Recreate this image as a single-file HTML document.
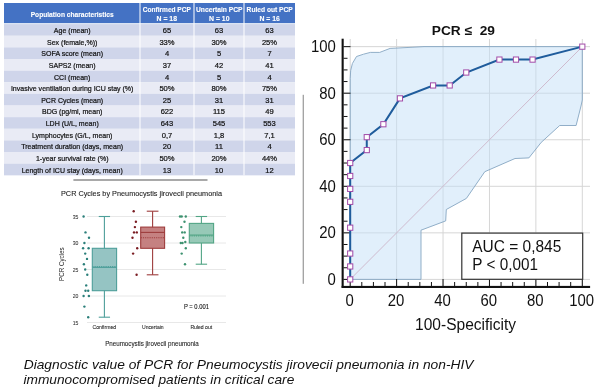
<!DOCTYPE html>
<html><head><meta charset="utf-8"><style>
html,body{margin:0;padding:0;background:#fff;width:598px;height:389px;overflow:hidden}
svg{position:absolute;left:0;top:0;display:block;filter:blur(0.3px)}
text{font-family:"Liberation Sans",sans-serif}
</style></head><body>
<svg width="598" height="389" viewBox="0 0 598 389">

<rect x="4" y="3" width="291" height="20.2" fill="#4472C4"/>
<rect x="4" y="24.10" width="291" height="11.68" fill="#CFD5EA"/>
<rect x="4" y="35.73" width="291" height="11.68" fill="#E9EBF5"/>
<rect x="4" y="47.36" width="291" height="11.68" fill="#CFD5EA"/>
<rect x="4" y="58.99" width="291" height="11.68" fill="#E9EBF5"/>
<rect x="4" y="70.62" width="291" height="11.68" fill="#CFD5EA"/>
<rect x="4" y="82.25" width="291" height="11.68" fill="#E9EBF5"/>
<rect x="4" y="93.88" width="291" height="11.68" fill="#CFD5EA"/>
<rect x="4" y="105.52" width="291" height="11.68" fill="#E9EBF5"/>
<rect x="4" y="117.15" width="291" height="11.68" fill="#CFD5EA"/>
<rect x="4" y="128.78" width="291" height="11.68" fill="#E9EBF5"/>
<rect x="4" y="140.41" width="291" height="11.68" fill="#CFD5EA"/>
<rect x="4" y="152.04" width="291" height="11.68" fill="#E9EBF5"/>
<rect x="4" y="163.67" width="291" height="11.68" fill="#CFD5EA"/>
<rect x="139.5" y="3" width="1" height="172.3" fill="#fff"/>
<rect x="193.5" y="3" width="1" height="172.3" fill="#fff"/>
<rect x="243.5" y="3" width="1" height="172.3" fill="#fff"/>
<text x="72.2" y="16.5" font-size="7.8" font-weight="bold" fill="#fff" text-anchor="middle" textLength="83" lengthAdjust="spacingAndGlyphs" stroke="#fff" stroke-width="0.12" >Population characteristics</text>
<text x="166.8" y="11.9" font-size="7.7" font-weight="bold" fill="#fff" text-anchor="middle" textLength="48.2" lengthAdjust="spacingAndGlyphs" stroke="#fff" stroke-width="0.12" >Confirmed PCP</text>
<text x="166.8" y="21.1" font-size="7.7" font-weight="bold" fill="#fff" text-anchor="middle" textLength="20.5" lengthAdjust="spacingAndGlyphs" stroke="#fff" stroke-width="0.12" >N = 18</text>
<text x="219.3" y="11.9" font-size="7.7" font-weight="bold" fill="#fff" text-anchor="middle" textLength="46.6" lengthAdjust="spacingAndGlyphs" stroke="#fff" stroke-width="0.12" >Uncertain PCP</text>
<text x="219.3" y="21.1" font-size="7.7" font-weight="bold" fill="#fff" text-anchor="middle" textLength="20.5" lengthAdjust="spacingAndGlyphs" stroke="#fff" stroke-width="0.12" >N = 10</text>
<text x="269.7" y="11.9" font-size="7.7" font-weight="bold" fill="#fff" text-anchor="middle" textLength="46.2" lengthAdjust="spacingAndGlyphs" stroke="#fff" stroke-width="0.12" >Ruled out PCP</text>
<text x="269.7" y="21.1" font-size="7.7" font-weight="bold" fill="#fff" text-anchor="middle" textLength="20.5" lengthAdjust="spacingAndGlyphs" stroke="#fff" stroke-width="0.12" >N = 16</text>
<text x="72.2" y="33.02" font-size="8" font-weight="normal" fill="#111" text-anchor="middle" stroke="#111" stroke-width="0.22" transform="translate(72.2 0) scale(0.88 1) translate(-72.2 0)">Age (mean)</text>
<text x="167.0" y="33.02" font-size="8" font-weight="normal" fill="#111" text-anchor="middle" stroke="#111" stroke-width="0.22" transform="translate(167.0 0) scale(0.95 1) translate(-167.0 0)">65</text>
<text x="219.0" y="33.02" font-size="8" font-weight="normal" fill="#111" text-anchor="middle" stroke="#111" stroke-width="0.22" transform="translate(219.0 0) scale(0.95 1) translate(-219.0 0)">63</text>
<text x="269.5" y="33.02" font-size="8" font-weight="normal" fill="#111" text-anchor="middle" stroke="#111" stroke-width="0.22" transform="translate(269.5 0) scale(0.95 1) translate(-269.5 0)">63</text>
<text x="72.2" y="44.65" font-size="8" font-weight="normal" fill="#111" text-anchor="middle" stroke="#111" stroke-width="0.22" transform="translate(72.2 0) scale(0.88 1) translate(-72.2 0)">Sex (female,%))</text>
<text x="167.0" y="44.65" font-size="8" font-weight="normal" fill="#111" text-anchor="middle" stroke="#111" stroke-width="0.22" transform="translate(167.0 0) scale(0.95 1) translate(-167.0 0)">33%</text>
<text x="219.0" y="44.65" font-size="8" font-weight="normal" fill="#111" text-anchor="middle" stroke="#111" stroke-width="0.22" transform="translate(219.0 0) scale(0.95 1) translate(-219.0 0)">30%</text>
<text x="269.5" y="44.65" font-size="8" font-weight="normal" fill="#111" text-anchor="middle" stroke="#111" stroke-width="0.22" transform="translate(269.5 0) scale(0.95 1) translate(-269.5 0)">25%</text>
<text x="72.2" y="56.28" font-size="8" font-weight="normal" fill="#111" text-anchor="middle" stroke="#111" stroke-width="0.22" transform="translate(72.2 0) scale(0.88 1) translate(-72.2 0)">SOFA score (mean)</text>
<text x="167.0" y="56.28" font-size="8" font-weight="normal" fill="#111" text-anchor="middle" stroke="#111" stroke-width="0.22" transform="translate(167.0 0) scale(0.95 1) translate(-167.0 0)">4</text>
<text x="219.0" y="56.28" font-size="8" font-weight="normal" fill="#111" text-anchor="middle" stroke="#111" stroke-width="0.22" transform="translate(219.0 0) scale(0.95 1) translate(-219.0 0)">5</text>
<text x="269.5" y="56.28" font-size="8" font-weight="normal" fill="#111" text-anchor="middle" stroke="#111" stroke-width="0.22" transform="translate(269.5 0) scale(0.95 1) translate(-269.5 0)">7</text>
<text x="72.2" y="67.91" font-size="8" font-weight="normal" fill="#111" text-anchor="middle" stroke="#111" stroke-width="0.22" transform="translate(72.2 0) scale(0.88 1) translate(-72.2 0)">SAPS2 (mean)</text>
<text x="167.0" y="67.91" font-size="8" font-weight="normal" fill="#111" text-anchor="middle" stroke="#111" stroke-width="0.22" transform="translate(167.0 0) scale(0.95 1) translate(-167.0 0)">37</text>
<text x="219.0" y="67.91" font-size="8" font-weight="normal" fill="#111" text-anchor="middle" stroke="#111" stroke-width="0.22" transform="translate(219.0 0) scale(0.95 1) translate(-219.0 0)">42</text>
<text x="269.5" y="67.91" font-size="8" font-weight="normal" fill="#111" text-anchor="middle" stroke="#111" stroke-width="0.22" transform="translate(269.5 0) scale(0.95 1) translate(-269.5 0)">41</text>
<text x="72.2" y="79.54" font-size="8" font-weight="normal" fill="#111" text-anchor="middle" stroke="#111" stroke-width="0.22" transform="translate(72.2 0) scale(0.88 1) translate(-72.2 0)">CCI (mean)</text>
<text x="167.0" y="79.54" font-size="8" font-weight="normal" fill="#111" text-anchor="middle" stroke="#111" stroke-width="0.22" transform="translate(167.0 0) scale(0.95 1) translate(-167.0 0)">4</text>
<text x="219.0" y="79.54" font-size="8" font-weight="normal" fill="#111" text-anchor="middle" stroke="#111" stroke-width="0.22" transform="translate(219.0 0) scale(0.95 1) translate(-219.0 0)">5</text>
<text x="269.5" y="79.54" font-size="8" font-weight="normal" fill="#111" text-anchor="middle" stroke="#111" stroke-width="0.22" transform="translate(269.5 0) scale(0.95 1) translate(-269.5 0)">4</text>
<text x="72.2" y="91.17" font-size="8" font-weight="normal" fill="#111" text-anchor="middle" stroke="#111" stroke-width="0.22" transform="translate(72.2 0) scale(0.88 1) translate(-72.2 0)">Invasive ventilation during ICU stay (%)</text>
<text x="167.0" y="91.17" font-size="8" font-weight="normal" fill="#111" text-anchor="middle" stroke="#111" stroke-width="0.22" transform="translate(167.0 0) scale(0.95 1) translate(-167.0 0)">50%</text>
<text x="219.0" y="91.17" font-size="8" font-weight="normal" fill="#111" text-anchor="middle" stroke="#111" stroke-width="0.22" transform="translate(219.0 0) scale(0.95 1) translate(-219.0 0)">80%</text>
<text x="269.5" y="91.17" font-size="8" font-weight="normal" fill="#111" text-anchor="middle" stroke="#111" stroke-width="0.22" transform="translate(269.5 0) scale(0.95 1) translate(-269.5 0)">75%</text>
<text x="72.2" y="102.80" font-size="8" font-weight="normal" fill="#111" text-anchor="middle" stroke="#111" stroke-width="0.22" transform="translate(72.2 0) scale(0.88 1) translate(-72.2 0)">PCR Cycles (mean)</text>
<text x="167.0" y="102.80" font-size="8" font-weight="normal" fill="#111" text-anchor="middle" stroke="#111" stroke-width="0.22" transform="translate(167.0 0) scale(0.95 1) translate(-167.0 0)">25</text>
<text x="219.0" y="102.80" font-size="8" font-weight="normal" fill="#111" text-anchor="middle" stroke="#111" stroke-width="0.22" transform="translate(219.0 0) scale(0.95 1) translate(-219.0 0)">31</text>
<text x="269.5" y="102.80" font-size="8" font-weight="normal" fill="#111" text-anchor="middle" stroke="#111" stroke-width="0.22" transform="translate(269.5 0) scale(0.95 1) translate(-269.5 0)">31</text>
<text x="72.2" y="114.43" font-size="8" font-weight="normal" fill="#111" text-anchor="middle" stroke="#111" stroke-width="0.22" transform="translate(72.2 0) scale(0.88 1) translate(-72.2 0)">BDG (pg/ml, mean)</text>
<text x="167.0" y="114.43" font-size="8" font-weight="normal" fill="#111" text-anchor="middle" stroke="#111" stroke-width="0.22" transform="translate(167.0 0) scale(0.95 1) translate(-167.0 0)">622</text>
<text x="219.0" y="114.43" font-size="8" font-weight="normal" fill="#111" text-anchor="middle" stroke="#111" stroke-width="0.22" transform="translate(219.0 0) scale(0.95 1) translate(-219.0 0)">115</text>
<text x="269.5" y="114.43" font-size="8" font-weight="normal" fill="#111" text-anchor="middle" stroke="#111" stroke-width="0.22" transform="translate(269.5 0) scale(0.95 1) translate(-269.5 0)">49</text>
<text x="72.2" y="126.06" font-size="8" font-weight="normal" fill="#111" text-anchor="middle" stroke="#111" stroke-width="0.22" transform="translate(72.2 0) scale(0.88 1) translate(-72.2 0)">LDH (U/L, mean)</text>
<text x="167.0" y="126.06" font-size="8" font-weight="normal" fill="#111" text-anchor="middle" stroke="#111" stroke-width="0.22" transform="translate(167.0 0) scale(0.95 1) translate(-167.0 0)">643</text>
<text x="219.0" y="126.06" font-size="8" font-weight="normal" fill="#111" text-anchor="middle" stroke="#111" stroke-width="0.22" transform="translate(219.0 0) scale(0.95 1) translate(-219.0 0)">545</text>
<text x="269.5" y="126.06" font-size="8" font-weight="normal" fill="#111" text-anchor="middle" stroke="#111" stroke-width="0.22" transform="translate(269.5 0) scale(0.95 1) translate(-269.5 0)">553</text>
<text x="72.2" y="137.69" font-size="8" font-weight="normal" fill="#111" text-anchor="middle" stroke="#111" stroke-width="0.22" transform="translate(72.2 0) scale(0.88 1) translate(-72.2 0)">Lymphocytes (G/L, mean)</text>
<text x="167.0" y="137.69" font-size="8" font-weight="normal" fill="#111" text-anchor="middle" stroke="#111" stroke-width="0.22" transform="translate(167.0 0) scale(0.95 1) translate(-167.0 0)">0,7</text>
<text x="219.0" y="137.69" font-size="8" font-weight="normal" fill="#111" text-anchor="middle" stroke="#111" stroke-width="0.22" transform="translate(219.0 0) scale(0.95 1) translate(-219.0 0)">1,8</text>
<text x="269.5" y="137.69" font-size="8" font-weight="normal" fill="#111" text-anchor="middle" stroke="#111" stroke-width="0.22" transform="translate(269.5 0) scale(0.95 1) translate(-269.5 0)">7,1</text>
<text x="72.2" y="149.32" font-size="8" font-weight="normal" fill="#111" text-anchor="middle" stroke="#111" stroke-width="0.22" transform="translate(72.2 0) scale(0.88 1) translate(-72.2 0)">Treatment duration (days, mean)</text>
<text x="167.0" y="149.32" font-size="8" font-weight="normal" fill="#111" text-anchor="middle" stroke="#111" stroke-width="0.22" transform="translate(167.0 0) scale(0.95 1) translate(-167.0 0)">20</text>
<text x="219.0" y="149.32" font-size="8" font-weight="normal" fill="#111" text-anchor="middle" stroke="#111" stroke-width="0.22" transform="translate(219.0 0) scale(0.95 1) translate(-219.0 0)">11</text>
<text x="269.5" y="149.32" font-size="8" font-weight="normal" fill="#111" text-anchor="middle" stroke="#111" stroke-width="0.22" transform="translate(269.5 0) scale(0.95 1) translate(-269.5 0)">4</text>
<text x="72.2" y="160.95" font-size="8" font-weight="normal" fill="#111" text-anchor="middle" stroke="#111" stroke-width="0.22" transform="translate(72.2 0) scale(0.88 1) translate(-72.2 0)">1-year survival rate (%)</text>
<text x="167.0" y="160.95" font-size="8" font-weight="normal" fill="#111" text-anchor="middle" stroke="#111" stroke-width="0.22" transform="translate(167.0 0) scale(0.95 1) translate(-167.0 0)">50%</text>
<text x="219.0" y="160.95" font-size="8" font-weight="normal" fill="#111" text-anchor="middle" stroke="#111" stroke-width="0.22" transform="translate(219.0 0) scale(0.95 1) translate(-219.0 0)">20%</text>
<text x="269.5" y="160.95" font-size="8" font-weight="normal" fill="#111" text-anchor="middle" stroke="#111" stroke-width="0.22" transform="translate(269.5 0) scale(0.95 1) translate(-269.5 0)">44%</text>
<text x="72.2" y="172.58" font-size="8" font-weight="normal" fill="#111" text-anchor="middle" stroke="#111" stroke-width="0.22" transform="translate(72.2 0) scale(0.88 1) translate(-72.2 0)">Length of ICU stay (days, mean)</text>
<text x="167.0" y="172.58" font-size="8" font-weight="normal" fill="#111" text-anchor="middle" stroke="#111" stroke-width="0.22" transform="translate(167.0 0) scale(0.95 1) translate(-167.0 0)">13</text>
<text x="219.0" y="172.58" font-size="8" font-weight="normal" fill="#111" text-anchor="middle" stroke="#111" stroke-width="0.22" transform="translate(219.0 0) scale(0.95 1) translate(-219.0 0)">10</text>
<text x="269.5" y="172.58" font-size="8" font-weight="normal" fill="#111" text-anchor="middle" stroke="#111" stroke-width="0.22" transform="translate(269.5 0) scale(0.95 1) translate(-269.5 0)">12</text>
<rect x="73.4" y="179" width="134.1" height="2" fill="#A9A9A9"/>
<text x="141.5" y="196.2" font-size="7.6" font-weight="normal" fill="#222" text-anchor="middle" textLength="161" lengthAdjust="spacingAndGlyphs" stroke="#222" stroke-width="0.1" >PCR Cycles by Pneumocystis jirovecii pneumonia</text>
<line x1="87" y1="322.50" x2="226" y2="322.50" stroke="#E8E8E8" stroke-width="1"/>
<text x="78.4" y="324.60" font-size="5.8" font-weight="normal" fill="#333" text-anchor="end" textLength="5.7" lengthAdjust="spacingAndGlyphs" stroke="#333" stroke-width="0.08" >15</text>
<line x1="87" y1="296.00" x2="226" y2="296.00" stroke="#E8E8E8" stroke-width="1"/>
<text x="78.4" y="298.10" font-size="5.8" font-weight="normal" fill="#333" text-anchor="end" textLength="5.7" lengthAdjust="spacingAndGlyphs" stroke="#333" stroke-width="0.08" >20</text>
<line x1="87" y1="269.50" x2="226" y2="269.50" stroke="#E8E8E8" stroke-width="1"/>
<text x="78.4" y="271.60" font-size="5.8" font-weight="normal" fill="#333" text-anchor="end" textLength="5.7" lengthAdjust="spacingAndGlyphs" stroke="#333" stroke-width="0.08" >25</text>
<line x1="87" y1="243.00" x2="226" y2="243.00" stroke="#E8E8E8" stroke-width="1"/>
<text x="78.4" y="245.10" font-size="5.8" font-weight="normal" fill="#333" text-anchor="end" textLength="5.7" lengthAdjust="spacingAndGlyphs" stroke="#333" stroke-width="0.08" >30</text>
<line x1="87" y1="216.50" x2="226" y2="216.50" stroke="#E8E8E8" stroke-width="1"/>
<text x="78.4" y="218.60" font-size="5.8" font-weight="normal" fill="#333" text-anchor="end" textLength="5.7" lengthAdjust="spacingAndGlyphs" stroke="#333" stroke-width="0.08" >35</text>
<text x="0" y="0" font-size="6.5" fill="#222" transform="translate(63.6 264.2) rotate(-90)" text-anchor="middle" textLength="33.6" lengthAdjust="spacingAndGlyphs">PCR Cycles</text>
<text x="104.35" y="329.2" font-size="5.4" font-weight="normal" fill="#222" text-anchor="middle" textLength="23.5" lengthAdjust="spacingAndGlyphs" stroke="#222" stroke-width="0.08" >Confirmed</text>
<text x="152.85" y="329.2" font-size="5.4" font-weight="normal" fill="#222" text-anchor="middle" textLength="21.7" lengthAdjust="spacingAndGlyphs" stroke="#222" stroke-width="0.08" >Uncertain</text>
<text x="201.3" y="329.2" font-size="5.4" font-weight="normal" fill="#222" text-anchor="middle" textLength="21.8" lengthAdjust="spacingAndGlyphs" stroke="#222" stroke-width="0.08" >Ruled out</text>
<text x="196.4" y="308.6" font-size="6.3" font-weight="normal" fill="#111" text-anchor="middle" textLength="25" lengthAdjust="spacingAndGlyphs" stroke="#111" stroke-width="0.1" >P = 0.001</text>
<text x="152.0" y="345.6" font-size="6.4" font-weight="normal" fill="#222" text-anchor="middle" textLength="93.7" lengthAdjust="spacingAndGlyphs" stroke="#222" stroke-width="0.08" >Pneumocystis jirovecii pneumonia</text>
<line x1="104.4" y1="216.50" x2="104.4" y2="317.20" stroke="#4E9F9A" stroke-width="1.1"/>
<line x1="98.75" y1="216.50" x2="110.05000000000001" y2="216.50" stroke="#4E9F9A" stroke-width="1.1"/>
<line x1="98.75" y1="317.20" x2="110.05000000000001" y2="317.20" stroke="#4E9F9A" stroke-width="1.1"/>
<rect x="92.3" y="248.30" width="24.299999999999997" height="42.40" fill="#95C4C3" stroke="#4E9F9A" stroke-width="1.1"/>
<line x1="92.3" y1="267.38" x2="116.6" y2="267.38" stroke="#4E9F9A" stroke-width="1.1"/>
<line x1="92.3" y1="266.58" x2="116.6" y2="266.58" stroke="#4E9F9A" stroke-width="1.1" stroke-dasharray="1.2 1"/>
<line x1="152.6" y1="211.20" x2="152.6" y2="274.80" stroke="#9E3D3D" stroke-width="1.1"/>
<line x1="146.75" y1="211.20" x2="158.45" y2="211.20" stroke="#9E3D3D" stroke-width="1.1"/>
<line x1="146.75" y1="274.80" x2="158.45" y2="274.80" stroke="#9E3D3D" stroke-width="1.1"/>
<rect x="140.7" y="227.10" width="23.900000000000006" height="21.20" fill="#C58181" stroke="#9E3D3D" stroke-width="1.1"/>
<line x1="140.7" y1="232.40" x2="164.6" y2="232.40" stroke="#9E3D3D" stroke-width="1.1"/>
<line x1="140.7" y1="237.70" x2="164.6" y2="237.70" stroke="#9E3D3D" stroke-width="1.1" stroke-dasharray="1.2 1"/>
<line x1="201.4" y1="216.50" x2="201.4" y2="264.20" stroke="#52A585" stroke-width="1.1"/>
<line x1="195.70000000000002" y1="216.50" x2="207.1" y2="216.50" stroke="#52A585" stroke-width="1.1"/>
<line x1="195.70000000000002" y1="264.20" x2="207.1" y2="264.20" stroke="#52A585" stroke-width="1.1"/>
<rect x="189.3" y="223.39" width="24.299999999999983" height="19.61" fill="#97C9B7" stroke="#52A585" stroke-width="1.1"/>
<line x1="189.3" y1="235.05" x2="213.6" y2="235.05" stroke="#52A585" stroke-width="1.1"/>
<line x1="189.3" y1="235.84" x2="213.6" y2="235.84" stroke="#52A585" stroke-width="1.1" stroke-dasharray="1.2 1"/>
<circle cx="83.6" cy="216.50" r="1.2" fill="#2B7F7A"/>
<circle cx="85.5" cy="232.40" r="1.2" fill="#2B7F7A"/>
<circle cx="89" cy="237.70" r="1.2" fill="#2B7F7A"/>
<circle cx="84.4" cy="243.00" r="1.2" fill="#2B7F7A"/>
<circle cx="83.1" cy="248.30" r="1.2" fill="#2B7F7A"/>
<circle cx="88.6" cy="248.30" r="1.2" fill="#2B7F7A"/>
<circle cx="85.2" cy="253.60" r="1.2" fill="#2B7F7A"/>
<circle cx="87" cy="258.90" r="1.2" fill="#2B7F7A"/>
<circle cx="83.9" cy="264.20" r="1.2" fill="#2B7F7A"/>
<circle cx="85.2" cy="269.50" r="1.2" fill="#2B7F7A"/>
<circle cx="87.3" cy="274.80" r="1.2" fill="#2B7F7A"/>
<circle cx="86.2" cy="285.40" r="1.2" fill="#2B7F7A"/>
<circle cx="85.5" cy="290.70" r="1.2" fill="#2B7F7A"/>
<circle cx="88.2" cy="290.70" r="1.2" fill="#2B7F7A"/>
<circle cx="83.6" cy="296.00" r="1.2" fill="#2B7F7A"/>
<circle cx="88.9" cy="296.00" r="1.2" fill="#2B7F7A"/>
<circle cx="84.4" cy="306.60" r="1.2" fill="#2B7F7A"/>
<circle cx="88.2" cy="317.20" r="1.2" fill="#2B7F7A"/>
<circle cx="133.7" cy="211.20" r="1.2" fill="#7A1C22"/>
<circle cx="135.9" cy="221.80" r="1.2" fill="#7A1C22"/>
<circle cx="134.9" cy="227.10" r="1.2" fill="#7A1C22"/>
<circle cx="134" cy="232.40" r="1.2" fill="#7A1C22"/>
<circle cx="136.8" cy="232.40" r="1.2" fill="#7A1C22"/>
<circle cx="132.5" cy="237.70" r="1.2" fill="#7A1C22"/>
<circle cx="137.2" cy="248.30" r="1.2" fill="#7A1C22"/>
<circle cx="133.1" cy="253.60" r="1.2" fill="#7A1C22"/>
<circle cx="136.6" cy="274.80" r="1.2" fill="#7A1C22"/>
<circle cx="180" cy="216.50" r="1.2" fill="#3D9270"/>
<circle cx="181.7" cy="216.50" r="1.2" fill="#3D9270"/>
<circle cx="185.8" cy="216.50" r="1.2" fill="#3D9270"/>
<circle cx="184.5" cy="221.80" r="1.2" fill="#3D9270"/>
<circle cx="181.3" cy="227.10" r="1.2" fill="#3D9270"/>
<circle cx="182.2" cy="232.40" r="1.2" fill="#3D9270"/>
<circle cx="184.7" cy="232.40" r="1.2" fill="#3D9270"/>
<circle cx="183.3" cy="237.70" r="1.2" fill="#3D9270"/>
<circle cx="180.8" cy="243.00" r="1.2" fill="#3D9270"/>
<circle cx="182.5" cy="243.00" r="1.2" fill="#3D9270"/>
<circle cx="185.3" cy="241.94" r="1.2" fill="#3D9270"/>
<circle cx="185.8" cy="248.30" r="1.2" fill="#3D9270"/>
<circle cx="181.7" cy="253.60" r="1.2" fill="#3D9270"/>
<circle cx="185" cy="264.20" r="1.2" fill="#3D9270"/>
<rect x="302.7" y="94.8" width="1.1" height="189" fill="#8E8E8E"/>
<line x1="350.20" y1="39" x2="350.20" y2="287" stroke="#D6D6D6" stroke-width="1"/>
<line x1="342" y1="279.40" x2="590" y2="279.40" stroke="#D6D6D6" stroke-width="1"/>
<line x1="396.62" y1="39" x2="396.62" y2="287" stroke="#D6D6D6" stroke-width="1"/>
<line x1="342" y1="232.85" x2="590" y2="232.85" stroke="#D6D6D6" stroke-width="1"/>
<line x1="443.04" y1="39" x2="443.04" y2="287" stroke="#D6D6D6" stroke-width="1"/>
<line x1="342" y1="186.30" x2="590" y2="186.30" stroke="#D6D6D6" stroke-width="1"/>
<line x1="489.46" y1="39" x2="489.46" y2="287" stroke="#D6D6D6" stroke-width="1"/>
<line x1="342" y1="139.75" x2="590" y2="139.75" stroke="#D6D6D6" stroke-width="1"/>
<line x1="535.88" y1="39" x2="535.88" y2="287" stroke="#D6D6D6" stroke-width="1"/>
<line x1="342" y1="93.20" x2="590" y2="93.20" stroke="#D6D6D6" stroke-width="1"/>
<line x1="582.30" y1="39" x2="582.30" y2="287" stroke="#D6D6D6" stroke-width="1"/>
<line x1="342" y1="46.65" x2="590" y2="46.65" stroke="#D6D6D6" stroke-width="1"/>
<polygon points="350.2,279.4 350.2,78.5 350.7,70.4 352.4,63.5 356.5,56.5 363.5,54.2 370.4,52.4 379.7,52.4 390.1,48.4 398,48 424,46.6 582.3,46.6 582.3,100 581,106 576.1,125.5 559.7,125.5 541.2,142.4 528.9,157.9 515,158.5 484.8,171.7 466.4,198.4 446.3,209.5 445.7,220.9 421,230.2 421,279.4" fill="#C4DFF7" fill-opacity="0.5" stroke="#86A6C2" stroke-width="0.9"/>
<line x1="350.2" y1="279.4" x2="582.30" y2="46.65" stroke="#CDB6C9" stroke-width="0.9"/>
<rect x="341.6" y="38.7" width="2.1" height="249" fill="#111"/>
<rect x="341.6" y="285.9" width="248.5" height="2.1" fill="#111"/>
<line x1="343.5" y1="279.40" x2="350.5" y2="279.40" stroke="#111" stroke-width="1"/>
<line x1="350.20" y1="286" x2="350.20" y2="279" stroke="#111" stroke-width="1"/>
<line x1="343.5" y1="267.76" x2="347.5" y2="267.76" stroke="#111" stroke-width="1"/>
<line x1="361.81" y1="286" x2="361.81" y2="282" stroke="#111" stroke-width="1"/>
<line x1="343.5" y1="256.12" x2="347.5" y2="256.12" stroke="#111" stroke-width="1"/>
<line x1="373.41" y1="286" x2="373.41" y2="282" stroke="#111" stroke-width="1"/>
<line x1="343.5" y1="244.49" x2="347.5" y2="244.49" stroke="#111" stroke-width="1"/>
<line x1="385.01" y1="286" x2="385.01" y2="282" stroke="#111" stroke-width="1"/>
<line x1="343.5" y1="232.85" x2="350.5" y2="232.85" stroke="#111" stroke-width="1"/>
<line x1="396.62" y1="286" x2="396.62" y2="279" stroke="#111" stroke-width="1"/>
<line x1="343.5" y1="221.21" x2="347.5" y2="221.21" stroke="#111" stroke-width="1"/>
<line x1="408.23" y1="286" x2="408.23" y2="282" stroke="#111" stroke-width="1"/>
<line x1="343.5" y1="209.57" x2="347.5" y2="209.57" stroke="#111" stroke-width="1"/>
<line x1="419.83" y1="286" x2="419.83" y2="282" stroke="#111" stroke-width="1"/>
<line x1="343.5" y1="197.94" x2="347.5" y2="197.94" stroke="#111" stroke-width="1"/>
<line x1="431.44" y1="286" x2="431.44" y2="282" stroke="#111" stroke-width="1"/>
<line x1="343.5" y1="186.30" x2="350.5" y2="186.30" stroke="#111" stroke-width="1"/>
<line x1="443.04" y1="286" x2="443.04" y2="279" stroke="#111" stroke-width="1"/>
<line x1="343.5" y1="174.66" x2="347.5" y2="174.66" stroke="#111" stroke-width="1"/>
<line x1="454.64" y1="286" x2="454.64" y2="282" stroke="#111" stroke-width="1"/>
<line x1="343.5" y1="163.02" x2="347.5" y2="163.02" stroke="#111" stroke-width="1"/>
<line x1="466.25" y1="286" x2="466.25" y2="282" stroke="#111" stroke-width="1"/>
<line x1="343.5" y1="151.39" x2="347.5" y2="151.39" stroke="#111" stroke-width="1"/>
<line x1="477.86" y1="286" x2="477.86" y2="282" stroke="#111" stroke-width="1"/>
<line x1="343.5" y1="139.75" x2="350.5" y2="139.75" stroke="#111" stroke-width="1"/>
<line x1="489.46" y1="286" x2="489.46" y2="279" stroke="#111" stroke-width="1"/>
<line x1="343.5" y1="128.11" x2="347.5" y2="128.11" stroke="#111" stroke-width="1"/>
<line x1="501.06" y1="286" x2="501.06" y2="282" stroke="#111" stroke-width="1"/>
<line x1="343.5" y1="116.47" x2="347.5" y2="116.47" stroke="#111" stroke-width="1"/>
<line x1="512.67" y1="286" x2="512.67" y2="282" stroke="#111" stroke-width="1"/>
<line x1="343.5" y1="104.84" x2="347.5" y2="104.84" stroke="#111" stroke-width="1"/>
<line x1="524.27" y1="286" x2="524.27" y2="282" stroke="#111" stroke-width="1"/>
<line x1="343.5" y1="93.20" x2="350.5" y2="93.20" stroke="#111" stroke-width="1"/>
<line x1="535.88" y1="286" x2="535.88" y2="279" stroke="#111" stroke-width="1"/>
<line x1="343.5" y1="81.56" x2="347.5" y2="81.56" stroke="#111" stroke-width="1"/>
<line x1="547.49" y1="286" x2="547.49" y2="282" stroke="#111" stroke-width="1"/>
<line x1="343.5" y1="69.92" x2="347.5" y2="69.92" stroke="#111" stroke-width="1"/>
<line x1="559.09" y1="286" x2="559.09" y2="282" stroke="#111" stroke-width="1"/>
<line x1="343.5" y1="58.29" x2="347.5" y2="58.29" stroke="#111" stroke-width="1"/>
<line x1="570.69" y1="286" x2="570.69" y2="282" stroke="#111" stroke-width="1"/>
<line x1="343.5" y1="46.65" x2="350.5" y2="46.65" stroke="#111" stroke-width="1"/>
<line x1="582.30" y1="286" x2="582.30" y2="279" stroke="#111" stroke-width="1"/>
<polyline points="350.20,279.40 350.20,266.46 350.20,253.54 350.20,227.68 350.20,201.82 350.20,188.88 350.20,175.97 350.20,163.02 366.77,150.08 366.77,137.17 383.37,124.23 399.94,98.37 433.08,85.45 449.68,85.45 466.25,72.51 499.42,59.59 515.99,59.59 532.56,59.59 582.30,46.65" fill="none" stroke="#1F5C9C" stroke-width="2"/>
<rect x="347.60" y="276.80" width="5.2" height="5.2" fill="#fff" stroke="#A24BA8" stroke-width="1"/>
<rect x="347.60" y="263.86" width="5.2" height="5.2" fill="#fff" stroke="#A24BA8" stroke-width="1"/>
<rect x="347.60" y="250.94" width="5.2" height="5.2" fill="#fff" stroke="#A24BA8" stroke-width="1"/>
<rect x="347.60" y="225.08" width="5.2" height="5.2" fill="#fff" stroke="#A24BA8" stroke-width="1"/>
<rect x="347.60" y="199.22" width="5.2" height="5.2" fill="#fff" stroke="#A24BA8" stroke-width="1"/>
<rect x="347.60" y="186.28" width="5.2" height="5.2" fill="#fff" stroke="#A24BA8" stroke-width="1"/>
<rect x="347.60" y="173.37" width="5.2" height="5.2" fill="#fff" stroke="#A24BA8" stroke-width="1"/>
<rect x="347.60" y="160.42" width="5.2" height="5.2" fill="#fff" stroke="#A24BA8" stroke-width="1"/>
<rect x="364.17" y="147.48" width="5.2" height="5.2" fill="#fff" stroke="#A24BA8" stroke-width="1"/>
<rect x="364.17" y="134.57" width="5.2" height="5.2" fill="#fff" stroke="#A24BA8" stroke-width="1"/>
<rect x="380.77" y="121.63" width="5.2" height="5.2" fill="#fff" stroke="#A24BA8" stroke-width="1"/>
<rect x="397.34" y="95.77" width="5.2" height="5.2" fill="#fff" stroke="#A24BA8" stroke-width="1"/>
<rect x="430.48" y="82.85" width="5.2" height="5.2" fill="#fff" stroke="#A24BA8" stroke-width="1"/>
<rect x="447.08" y="82.85" width="5.2" height="5.2" fill="#fff" stroke="#A24BA8" stroke-width="1"/>
<rect x="463.65" y="69.91" width="5.2" height="5.2" fill="#fff" stroke="#A24BA8" stroke-width="1"/>
<rect x="496.82" y="56.99" width="5.2" height="5.2" fill="#fff" stroke="#A24BA8" stroke-width="1"/>
<rect x="513.39" y="56.99" width="5.2" height="5.2" fill="#fff" stroke="#A24BA8" stroke-width="1"/>
<rect x="529.96" y="56.99" width="5.2" height="5.2" fill="#fff" stroke="#A24BA8" stroke-width="1"/>
<rect x="579.70" y="44.05" width="5.2" height="5.2" fill="#fff" stroke="#A24BA8" stroke-width="1"/>
<text x="335.8" y="285.00" font-size="15.2" font-weight="normal" fill="#111" text-anchor="end" textLength="8.3" lengthAdjust="spacingAndGlyphs" transform="translate(0 285.00) scale(1 1.12) translate(0 -285.00)">0</text>
<text x="349.60" y="306.4" font-size="15.2" font-weight="normal" fill="#111" text-anchor="middle" textLength="8.3" lengthAdjust="spacingAndGlyphs" transform="translate(0 306.4) scale(1 1.05) translate(0 -306.4)">0</text>
<text x="335.8" y="238.45" font-size="15.2" font-weight="normal" fill="#111" text-anchor="end" textLength="16.6" lengthAdjust="spacingAndGlyphs" transform="translate(0 238.45) scale(1 1.12) translate(0 -238.45)">20</text>
<text x="396.02" y="306.4" font-size="15.2" font-weight="normal" fill="#111" text-anchor="middle" textLength="16.6" lengthAdjust="spacingAndGlyphs" transform="translate(0 306.4) scale(1 1.05) translate(0 -306.4)">20</text>
<text x="335.8" y="191.90" font-size="15.2" font-weight="normal" fill="#111" text-anchor="end" textLength="16.6" lengthAdjust="spacingAndGlyphs" transform="translate(0 191.90) scale(1 1.12) translate(0 -191.90)">40</text>
<text x="442.44" y="306.4" font-size="15.2" font-weight="normal" fill="#111" text-anchor="middle" textLength="16.6" lengthAdjust="spacingAndGlyphs" transform="translate(0 306.4) scale(1 1.05) translate(0 -306.4)">40</text>
<text x="335.8" y="145.35" font-size="15.2" font-weight="normal" fill="#111" text-anchor="end" textLength="16.6" lengthAdjust="spacingAndGlyphs" transform="translate(0 145.35) scale(1 1.12) translate(0 -145.35)">60</text>
<text x="488.86" y="306.4" font-size="15.2" font-weight="normal" fill="#111" text-anchor="middle" textLength="16.6" lengthAdjust="spacingAndGlyphs" transform="translate(0 306.4) scale(1 1.05) translate(0 -306.4)">60</text>
<text x="335.8" y="98.80" font-size="15.2" font-weight="normal" fill="#111" text-anchor="end" textLength="16.6" lengthAdjust="spacingAndGlyphs" transform="translate(0 98.80) scale(1 1.12) translate(0 -98.80)">80</text>
<text x="535.28" y="306.4" font-size="15.2" font-weight="normal" fill="#111" text-anchor="middle" textLength="16.6" lengthAdjust="spacingAndGlyphs" transform="translate(0 306.4) scale(1 1.05) translate(0 -306.4)">80</text>
<text x="335.8" y="52.25" font-size="15.2" font-weight="normal" fill="#111" text-anchor="end" textLength="24.9" lengthAdjust="spacingAndGlyphs" transform="translate(0 52.25) scale(1 1.12) translate(0 -52.25)">100</text>
<text x="581.70" y="306.4" font-size="15.2" font-weight="normal" fill="#111" text-anchor="middle" textLength="24.9" lengthAdjust="spacingAndGlyphs" transform="translate(0 306.4) scale(1 1.05) translate(0 -306.4)">100</text>
<text x="465.6" y="329.6" font-size="15" font-weight="normal" fill="#111" text-anchor="middle" textLength="101" lengthAdjust="spacingAndGlyphs" transform="translate(0 329.6) scale(1 1.12) translate(0 -329.6)">100-Specificity</text>
<text x="463.4" y="34.7" font-size="13" font-weight="bold" fill="#111" text-anchor="middle" textLength="63.2" lengthAdjust="spacingAndGlyphs" >PCR ≤&#160;&#160;29</text>
<rect x="461.8" y="233.1" width="120.9" height="46.2" fill="#fff" stroke="#333" stroke-width="1.2"/>
<text x="472.3" y="252.2" font-size="15" font-weight="normal" fill="#111" text-anchor="start" textLength="89" lengthAdjust="spacingAndGlyphs" transform="translate(0 252.2) scale(1 1.1) translate(0 -252.2)">AUC = 0,845</text>
<text x="472.3" y="270.4" font-size="15" font-weight="normal" fill="#111" text-anchor="start" textLength="65.6" lengthAdjust="spacingAndGlyphs" transform="translate(0 270.4) scale(1 1.06) translate(0 -270.4)">P &lt; 0,001</text>
<text x="23.7" y="368.8" font-size="12.9" font-style="italic" fill="#111" textLength="449.8" lengthAdjust="spacingAndGlyphs">Diagnostic value of PCR for Pneumocystis jirovecii pneumonia in non-HIV</text>
<text x="23.4" y="383.8" font-size="12.9" font-style="italic" fill="#111" textLength="270.9" lengthAdjust="spacingAndGlyphs">immunocompromised patients in critical care</text>
</svg></body></html>
